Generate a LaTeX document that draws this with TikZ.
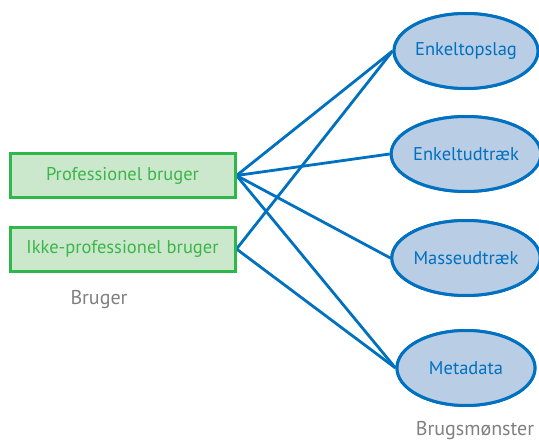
\documentclass[tikz,border=0pt]{standalone}
\usepackage{fontspec}
\setmainfont{PT Sans}
\usetikzlibrary{shapes.geometric}
\definecolor{linkblue}{RGB}{0,112,192}
\definecolor{ellfill}{RGB}{185,205,229}
\definecolor{boxgreen}{RGB}{46,184,76}
\definecolor{boxfill}{RGB}{204,232,204}
\definecolor{txtgreen}{RGB}{60,181,74}
\definecolor{capgray}{RGB}{128,128,128}
\tikzset{
  userbox/.style={draw=boxgreen, fill=boxfill, line width=3pt, minimum width=225pt,
    minimum height=44pt, inner sep=0pt, text=txtgreen, font=\fontsize{18.5}{20}\selectfont},
  usage/.style={ellipse, draw=linkblue, fill=ellfill, line width=3pt, minimum width=138pt,
    minimum height=75pt, inner sep=0pt, text=linkblue, font=\fontsize{18.5}{20}\selectfont},
  caption/.style={text=capgray, font=\fontsize{20}{22}\selectfont},
  link/.style={draw=linkblue, line width=2.8pt}
}
\begin{document}
\begin{tikzpicture}[x=1pt, y=-1pt]
  \useasboundingbox (0,0) rectangle (539,444);
  % users
  \node[userbox] (pro) at (122.5,175.5) {Professionel bruger};
  \node[userbox] (nonpro) at (122.5,249) {Ikke-professionel bruger};
  \node[caption] (usercap) at (99,300) {Bruger};
  % usage patterns
  \node[usage] (lookup) at (466,51) {Enkeltopslag};
  \node[usage] (extract) at (466,154) {Enkeltudtræk};
  \node[usage] (bulk) at (466,258) {Masseudtræk};
  \node[usage] (meta) at (466,368) {Metadata};
  \node[caption] (usecap) at (475,431) {Brugsmønster};
  % connections
  \path[link] (pro.east) -- (lookup.west);
  \path[link] (pro.east) -- (extract.west);
  \path[link] (pro.east) -- (bulk.west);
  \path[link] (pro.east) -- (meta.west);
  \path[link] (nonpro.east) -- (lookup.west);
  \path[link] (nonpro.east) -- (meta.west);
  % redraw nodes above the line ends
  \node[userbox] at (pro) {Professionel bruger};
  \node[userbox] at (nonpro) {Ikke-professionel bruger};
  \node[usage] at (lookup) {Enkeltopslag};
  \node[usage] at (extract) {Enkeltudtræk};
  \node[usage] at (bulk) {Masseudtræk};
  \node[usage] at (meta) {Metadata};
\end{tikzpicture}
\end{document}
